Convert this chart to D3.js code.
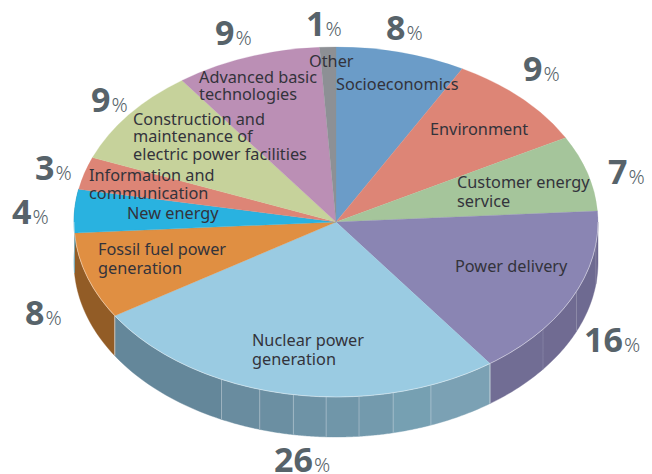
<!DOCTYPE html>
<html><head><meta charset="utf-8">
<style>html,body{margin:0;padding:0;background:#fff}svg{display:block}
.name{font-family:"Noto Sans",sans-serif;font-size:16.3px;fill:#33333b}
.big{font-family:"Noto Sans",sans-serif;font-weight:700;font-size:34px;fill:#57636a}
.pct{font-family:"Noto Sans",sans-serif;font-weight:300;font-size:20px;fill:#57636a}
</style>
<script src="https://cdn.jsdelivr.net/npm/d3@7"></script></head><body>
<script>
// data
const categories=["Socioeconomics","Environment","Customer energy service","Power delivery","Nuclear power generation","Fossil fuel power generation","New energy","Information and communication","Construction and maintenance of electric power facilities","Advanced basic technologies","Other"];
const values=[8,9,7,16,26,8,4,3,9,9,1];
const topColors=["#6b9cc8","#dd8576","#a5c59b","#8a85b3","#9acbe2","#e08f42","#29b2e0","#dd8576","#c6d29b","#bb8fb5","#8d9095"];
// wall facets: cumulative share where each facet of the rim ends, and its colour
const facetEnds=[27,31.5,35.5,40,44.1,46.5,48.6,50.6,52.6,54.7,57.2,66,74,78];
const facetColors=["#6d6890","#6e6a91","#706b92","#716d94","#7ba1b4","#76a0b2","#739aad","#7096a9","#6e93a6","#6b8fa2","#698c9f","#64879a","#925c26","#1f86a8"];

// layout
const cx=336,cy=222,rx=262,ry=175,depth=40;
const labelLines=[
 [["Socioeconomics",336,90]],
 [["Environment",430,135]],
 [["Customer energy",457,188],["service",457,207]],
 [["Power delivery",455,272]],
 [["Nuclear power",252,346],["generation",252,365]],
 [["Fossil fuel power",98,255],["generation",98,274]],
 [["New energy",127,219]],
 [["Information and",89,181],["communication",89,199]],
 [["Construction and",133,125],["maintenance of",133,142],["electric power facilities",133,160]],
 [["Advanced basic",199,83],["technologies",199,100]],
 [["Other",309,67]]
];
const pctPos=[[386,40],[523,81],[608,184],[584,352],[274,472],[25,325],[12,224],[35,180],[91,112],[215,45],[306,36]];

const svg=d3.select("body").append("svg").attr("width",652).attr("height",474);
const pie=d3.pie().sort(null).value(d=>d);
const arcs=pie(values);
const total=d3.sum(values);
const angle=d3.scaleLinear().domain([0,total]).range([0,2*Math.PI]);
const px=a=>cx+rx*Math.sin(a), py=a=>cy-ry*Math.cos(a);

// rim
const facetStarts=[25].concat(facetEnds.slice(0,-1));
const wall=svg.append("g");
facetEnds.forEach((e,i)=>{
  const a0=angle(facetStarts[i]),a1=angle(e);
  const p=d3.path();
  p.moveTo(px(a0),py(a0));
  const n=24,steps=d3.range(n+1).map(k=>a0+(a1-a0)*k/n);
  steps.forEach(a=>p.lineTo(px(a),py(a)));
  steps.slice().reverse().forEach(a=>p.lineTo(px(a),py(a)+depth));
  p.closePath();
  wall.append("path").attr("d",p.toString()).attr("fill",facetColors[i]).attr("stroke",facetColors[i]).attr("stroke-width",0.4);
});
// facet dividers
facetEnds.slice(0,-1).forEach((e,i)=>{
  const a=angle(e), major=(e===40||e===66);
  wall.append("line").attr("x1",px(a)).attr("x2",px(a)).attr("y1",py(a)).attr("y2",py(a)+depth)
    .attr("stroke","#dfe6ea").attr("stroke-opacity",major?0.75:(e<40?0.18:0.4)).attr("stroke-width",1);
});

// top face
const arc=d3.arc().innerRadius(0).outerRadius(rx);
svg.append("g").attr("transform",`translate(${cx},${cy}) scale(1,${ry/rx})`)
  .selectAll("path").data(arcs).join("path")
  .attr("d",arc).attr("fill",(d,i)=>topColors[i]).attr("stroke",(d,i)=>topColors[i]).attr("stroke-width",0.3);

// rim highlight
const rim=d3.path();
const rimA=d3.range(0,49).map(k=>angle(25)+(angle(75)-angle(25))*k/48);
rimA.forEach((a,k)=>k?rim.lineTo(px(a),py(a)):rim.moveTo(px(a),py(a)));
svg.append("path").attr("d",rim.toString()).attr("fill","none").attr("stroke","#fff").attr("stroke-opacity",0.55).attr("stroke-width",0.8);

// category labels
labelLines.forEach(lines=>lines.forEach(l=>{
  svg.append("text").attr("class","name").attr("x",l[1]).attr("y",l[2]).text(l[0]);
}));
// percentages
values.forEach((v,i)=>{
  const t=svg.append("text").attr("x",pctPos[i][0]).attr("y",pctPos[i][1]);
  t.append("tspan").attr("class","big").text(v);
  t.append("tspan").attr("class","pct").attr("dx",v===1?0:1).text("%");
});
</script></body></html>
